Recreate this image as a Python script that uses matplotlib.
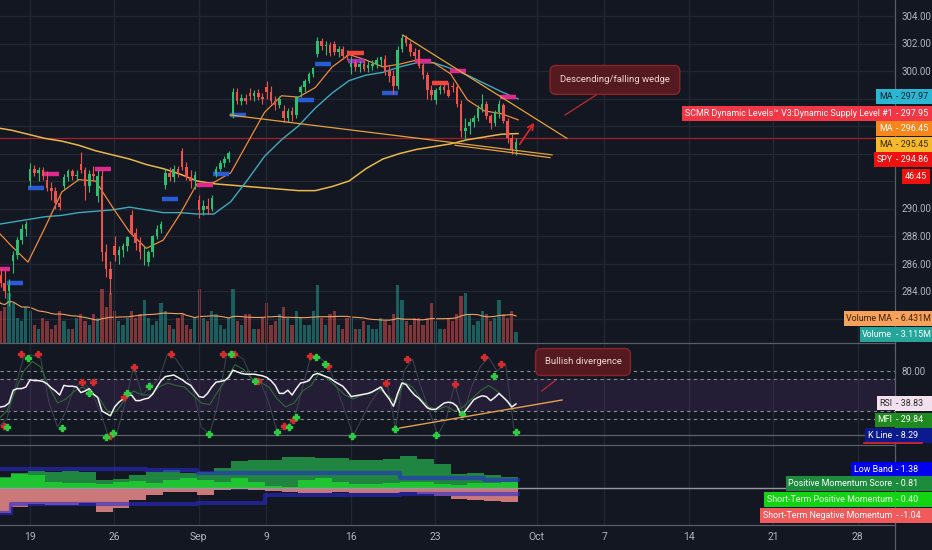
import numpy as np
import pandas as pd
import matplotlib.pyplot as plt
from matplotlib.patches import Rectangle
from matplotlib.lines import Line2D

plt.rcParams['font.family'] = ['Roboto', 'DejaVu Sans']

# SPY, Aug 15 - Sep 27 2019, 4 bars per trading day
days = ["Aug 15", "Aug 16", "Aug 19", "Aug 20", "Aug 21", "Aug 22", "Aug 23", "Aug 26",
        "Aug 27", "Aug 28", "Aug 29", "Aug 30", "Sep 3", "Sep 4", "Sep 5", "Sep 6",
        "Sep 9", "Sep 10", "Sep 11", "Sep 12", "Sep 13", "Sep 16", "Sep 17", "Sep 18",
        "Sep 19", "Sep 20", "Sep 23", "Sep 24", "Sep 25", "Sep 26", "Sep 27"]

opens = [284.9, 285.2, 284.6, 284.0, 286.2, 286.6, 287.7, 288.5, 292.0, 292.9, 292.6, 292.8,
         292.1, 291.5, 291.3, 290.4, 291.6, 292.3, 292.7, 292.4, 293.2, 292.8, 291.6, 292.5,
         290.9, 292.4, 286.8, 285.6, 287.3, 286.6, 287.0, 287.3, 289.5, 288.2, 287.5, 286.8,
         286.1, 286.8, 288.0, 288.5, 291.7, 292.6, 292.3, 292.9, 294.2, 293.0, 292.3, 292.0,
         290.6, 289.9, 290.2, 290.0, 292.5, 292.9, 293.3, 293.6, 296.7, 298.5, 297.8, 298.0,
         298.4, 298.2, 298.4, 298.1, 298.8, 298.5, 297.8, 297.5, 297.1, 296.6, 297.1, 296.8,
         298.5, 298.8, 299.3, 299.8, 301.2, 302.2, 301.8, 301.9, 302.0, 301.4, 301.6, 301.1,
         300.3, 300.6, 300.3, 300.5, 300.2, 300.4, 300.5, 300.8, 300.9, 300.0, 299.6, 298.9,
         301.6, 302.4, 302.0, 301.4, 301.5, 300.4, 299.7, 298.6, 297.9, 298.6, 298.8, 298.6,
         298.9, 298.8, 297.6, 295.6, 296.0, 296.3, 296.6, 297.3, 297.6, 296.7, 296.2, 297.0,
         297.5, 296.4, 295.1, 294.3]
highs = [285.6, 285.7, 285.5, 284.9, 286.9, 287.9, 288.9, 289.1, 293.3, 293.2, 293.0, 293.0,
         292.7, 291.9, 291.6, 290.9, 292.5, 292.9, 292.9, 292.8, 294.1, 293.0, 292.8, 293.1,
         292.8, 292.8, 287.4, 286.2, 288.0, 287.3, 287.5, 288.0, 289.9, 288.6, 287.9, 287.3,
         287.0, 288.1, 288.8, 289.1, 292.9, 293.0, 293.2, 293.1, 294.4, 293.4, 292.8, 292.7,
         291.0, 290.6, 290.8, 291.0, 293.1, 293.5, 293.8, 294.2, 298.8, 298.8, 298.3, 298.3,
         298.8, 298.6, 298.7, 298.4, 299.3, 298.9, 298.2, 298.2, 297.5, 297.3, 297.4, 298.2,
         299.0, 299.4, 299.9, 300.3, 302.5, 302.4, 302.2, 302.1, 302.2, 301.8, 301.8, 301.5,
         301.1, 300.9, 300.7, 300.8, 300.7, 300.8, 301.0, 301.0, 301.2, 300.4, 300.1, 301.8,
         302.7, 302.6, 302.2, 301.7, 301.6, 300.6, 299.9, 299.0, 298.8, 299.0, 299.1, 299.2,
         299.2, 299.0, 297.9, 296.6, 296.6, 296.8, 297.5, 298.3, 297.8, 296.9, 297.2, 297.9,
         297.7, 296.6, 295.4, 295.1]
lows = [283.9, 284.3, 283.5, 282.9, 285.3, 286.3, 287.4, 288.0, 291.6, 292.4, 292.0, 292.1,
        291.3, 290.6, 290.0, 289.9, 291.4, 292.0, 292.1, 292.0, 292.6, 290.6, 291.2, 292.0,
        290.5, 286.2, 285.0, 283.8, 286.2, 286.0, 286.5, 286.9, 288.0, 287.0, 286.3, 285.9,
        285.8, 286.5, 287.8, 288.2, 291.4, 292.0, 291.9, 292.3, 292.8, 292.1, 291.5, 291.4,
        289.3, 289.5, 289.6, 289.8, 292.3, 292.7, 293.0, 293.4, 296.6, 297.6, 297.5, 297.6,
        297.9, 297.8, 297.9, 297.6, 298.0, 297.6, 297.2, 297.3, 296.3, 296.3, 296.4, 296.6,
        298.1, 298.5, 299.1, 299.6, 301.0, 301.5, 301.2, 301.1, 301.2, 301.0, 300.9, 300.8,
        299.8, 300.0, 299.9, 300.0, 299.9, 300.1, 300.2, 300.4, 299.7, 299.2, 298.3, 298.7,
        301.4, 301.8, 301.1, 300.9, 300.2, 299.4, 298.0, 297.9, 297.6, 298.3, 298.4, 298.1,
        298.5, 297.4, 295.2, 295.0, 295.4, 295.9, 296.4, 297.0, 296.5, 295.8, 296.0, 296.6,
        296.2, 294.8, 294.0, 293.9]
closes = [285.2, 284.6, 284.0, 284.45, 286.6, 287.7, 288.5, 288.85, 292.9, 292.6, 292.8, 292.33,
          291.5, 291.3, 290.4, 290.09, 292.3, 292.7, 292.4, 292.45, 292.8, 291.6, 292.5, 292.36,
          292.4, 286.8, 285.6, 284.85, 286.6, 287.0, 287.3, 287.9, 288.2, 287.5, 286.8, 286.87,
          286.8, 288.0, 288.5, 288.89, 292.6, 292.3, 292.9, 292.58, 293.0, 292.3, 292.0, 292.45,
          289.9, 290.2, 290.0, 290.74, 292.9, 293.3, 293.6, 294.04, 298.5, 297.8, 298.0, 297.81,
          298.2, 298.4, 298.1, 297.97, 298.5, 297.8, 297.5, 298.0, 296.6, 297.1, 296.8, 298.13,
          298.8, 299.3, 299.8, 300.25, 302.2, 301.8, 301.9, 301.29, 301.4, 301.6, 301.1, 301.09,
          300.6, 300.3, 300.5, 300.16, 300.4, 300.5, 300.8, 300.99, 300.0, 299.6, 298.9, 301.5,
          302.4, 302.0, 301.4, 301.08, 300.4, 299.7, 298.6, 298.28, 298.6, 298.8, 298.6, 298.21,
          298.8, 297.6, 295.6, 295.87, 296.3, 296.6, 297.3, 297.62, 296.7, 296.2, 297.0, 297.6,
          296.4, 295.1, 294.3, 294.86]
volume = [13, 9, 10, 14, 11, 7, 6, 10, 9, 5, 4, 7, 6, 4, 5, 9, 6, 4, 4, 7, 8, 6, 5, 8,
          7, 15, 10, 14, 9, 6, 5, 7, 9, 7, 8, 12, 7, 5, 6, 11, 9, 5, 4, 7, 8, 5, 4, 7,
          15, 7, 6, 9, 8, 5, 4, 7, 15, 6, 5, 8, 8, 4, 4, 7, 11, 5, 6, 8, 10, 7, 5, 9,
          7, 5, 5, 9, 16, 7, 5, 8, 9, 5, 4, 7, 7, 4, 4, 6, 5, 4, 4, 7, 6, 5, 8, 16,
          12, 6, 5, 7, 7, 5, 7, 11, 6, 4, 4, 7, 6, 8, 13, 14, 8, 5, 6, 9, 8, 6, 7, 12,
          8, 7, 9, 3.1]

# moving averages, value at the start of each trading day (and at the last bar)
ma_fast = [288.6, 287.3, 286.1, 288.6, 291.2, 292.1, 292.0, 290.1, 288.3, 287.1, 287.7, 289.6,
           291.8, 291.9, 292.6, 294.8, 297.0, 298.2, 298.1, 298.8, 300.3, 301.2, 300.8, 300.3,
           300.5, 300.8, 300.6, 299.8, 297.9, 297.1, 296.9, 296.45]
ma_mid = [288.8, 289.0, 289.2, 289.4, 289.5, 289.7, 289.8, 289.9, 290.1, 289.9, 289.7, 289.7,
          289.6, 289.6, 290.5, 292.1, 293.8, 295.0, 296.0, 297.3, 298.4, 299.3, 299.7, 299.9,
          300.3, 300.6, 300.6, 300.2, 299.7, 299.1, 298.5, 297.97]
ma_slow = [295.9, 295.7, 295.4, 295.1, 294.9, 294.6, 294.2, 293.9, 293.6, 293.2, 292.9, 292.5,
           292.0, 291.8, 291.7, 291.6, 291.5, 291.4, 291.3, 291.3, 291.6, 292.0, 292.9, 293.6,
           294.0, 294.3, 294.5, 294.7, 295.0, 295.2, 295.4, 295.45]

# dynamic supply / demand levels: day position, price, kind
lvl_day = [0.0, 0.76, 2.0, 2.89, 5.96, 9.93, 12.0, 12.95, 13.95, 17.98, 18.98,
           20.94, 20.94, 22.95, 24.9, 25.9, 26.97, 29.93]
lvl_price = [285.6, 284.6, 291.5, 292.5, 292.9, 290.7, 291.7, 292.5, 296.8, 297.9, 300.5,
             301.3, 300.7, 298.4, 300.7, 299.1, 300.0, 298.1]
lvl_kind = ["supply", "demand", "demand", "supply", "supply", "demand", "supply", "demand",
            "demand", "demand", "demand", "red", "purple", "demand", "supply", "red",
            "supply", "supply"]

# RSI (per bar), MFI and K line (per half day)
rsi = [34, 35, 36, 40, 56, 58, 58, 60, 69, 68, 68, 67, 64, 59, 55, 50, 62, 61, 61, 60,
       53, 55, 58, 51, 47, 30, 27, 24, 35, 41, 45, 50, 50, 43, 43, 45, 46, 51, 60, 68,
       73, 74, 75, 72, 69, 65, 62, 55, 48, 47, 52, 60, 66, 67, 68, 72, 81, 79, 77, 76,
       76, 76, 75, 74, 72, 68, 62, 52, 52, 56, 50, 58, 65, 66, 68, 75, 77, 75, 73, 71,
       67, 64, 61, 55, 48, 49, 50, 51, 52, 54, 57, 60, 52, 45, 36, 52, 65, 63, 56, 50,
       46, 40, 34, 32, 32, 36, 40, 41, 40, 36, 25, 30, 37, 44, 47, 49, 48, 43, 47, 52,
       47, 42, 35, 38.83]
mfi = [20, 30, 55, 80, 92, 85, 60, 40, 45, 55, 60, 52, 45, 28, 30, 45, 55, 50, 50, 60,
       65, 62, 60, 50, 40, 38, 55, 70, 88, 82, 70, 66, 60, 45, 35, 40, 55, 62, 78, 70,
       60, 50, 45, 50, 52, 58, 50, 40, 66, 60, 45, 35, 32, 36, 30, 35, 45, 55, 62, 55,
       45, 29.84]
k_line = [10, 20, 60, 98, 100, 96, 40, 10, 30, 60, 66, 55, 30, -1, 2, 40, 85, 50, 60, 70,
          101, 95, 80, 60, 10, 1, 40, 100, 101, 95, 70, 67, 40, 4, 10, 20, 60, 99, 97, 88,
          60, 30, -1, 20, 40, 55, 65, 7.5, 80, 95, 60, 30, 0, 20, 64, 26, 60, 85, 97, 80,
          89, 8.29]
sell_day = [1.59, 2.59, 0.58, 5.2, 5.85, 8.27, 7.68, 6.85, 10.46, 13.54, 14.19, 15.6, 18.69,
            19.75, 17.15, 17.68, 23.18, 24.43, 27.27, 28.98, 29.99]
sell_val = [101, 101, 11, 66, 66, 85, 47.5, -1, 101, 101, 101, 67.5, 99, 86, 11, 19, 65, 95,
            64, 97.5, 89]
buy_day = [1.99, 0.76, 5.61, 4.01, 7.86, 6.62, 7.03, 9.16, 12.71, 14.01, 15.43, 19.04, 19.57,
           16.73, 17.44, 17.86, 21.17, 23.72, 26.14, 27.68, 29.57, 30.88]
buy_val = [96, 10, 52.5, 9, 52.5, -2.5, 2.5, 61, 1, 101, 67.5, 97.5, 89, 4, 10, 22.5, -1, 7.5,
           0, 26, 74, 4]

# momentum pane, one value per day
pos_score = [0.82, 1.08, 1.25, 1.13, 1.23, 1.13, 0.58, 0.63, 0.94, 1.18, 1.3, 1.08, 1.13, 1.42,
             1.98, 2.0, 2.0, 2.22, 2.25, 2.2, 2.15, 2.0, 2.0, 2.1, 2.3, 2.1, 1.74, 1.01, 1.06,
             0.94, 0.81]
st_pos = [0.7, 1.0, 0.94, 0.45, 0.33, 0.33, 0.3, 0.45, 0.5, 0.38, 0.55, 0.75, 0.6, 0.45, 0.7,
          0.45, 0.13, 0.07, 0.55, 0.7, 0.45, 0.3, 0.3, 0.38, 0.45, 0.45, 0.3, 0.22, 0.33, 0.38,
          0.40]
st_neg = [-1.83, -1.35, -1.16, -1.23, -1.23, -1.11, -1.71, -1.47, -0.87, -0.51, -0.27, -0.27,
          -0.51, -0.14, -0.1, -0.14, -0.19, -0.27, -0.34, -0.34, -0.27, -0.34, -0.39, -0.34,
          -0.27, -0.43, -0.58, -0.82, -0.87, -0.92, -1.04]
up_band = [1.35] * 9 + [1.28] * 3 + [1.08] * 12 + [0.72] * 5 + [0.6] * 2
low_band = [-1.8] + [-1.16] * 11 + [-1.11] * 4 + [-0.51] * 8 + [-0.42] * 7

tick_days = [2, 7, 12, 16, 21, 26, 32, 36, 41, 46, 51]
tick_labels = ["19", "26", "Sep", "9", "16", "23", "Oct", "7", "14", "21", "28"]

# ---- styling ----
BG = "#131722"
GRID = "#232733"
TXT = "#b2b5be"
UP, DOWN = "#2fbf71", "#f0514a"
LVL_COL = {"supply": "#e0288f", "demand": "#2a5bd7", "red": "#f2453d", "purple": "#9b30c0"}
W, H = 932, 550
PX = 16.9          # pixels per trading day
X0 = -5.8          # pixel position of day 0
FS = 6.4           # label font size

fig = plt.figure(figsize=(W / 100, H / 100), dpi=100, facecolor=BG)


def rect(top, bottom):
    return [0, 1 - bottom / H, 895 / W, (bottom - top) / H]


ax_vol = fig.add_axes(rect(0, 343), facecolor=BG)
ax = fig.add_axes(rect(0, 343), sharex=ax_vol, facecolor="none")
ax_rsi = fig.add_axes(rect(343, 445), sharex=ax_vol, facecolor=BG)
ax_mom = fig.add_axes(rect(445, 525), sharex=ax_vol, facecolor=BG)
ax_vol.set_zorder(0)
ax.set_zorder(1)

xlim = (-X0 / PX, (895 - X0) / PX)
for a in (ax_vol, ax, ax_rsi, ax_mom):
    a.set_xlim(*xlim)
    for s in a.spines.values():
        s.set_visible(False)
    a.tick_params(length=0, labelsize=7, colors=TXT)
    a.tick_params(axis="x", labelbottom=False)
    for d in tick_days:
        a.axvline(d + 0.1, color=GRID, lw=0.9, zorder=0)
ax_vol.set_yticks([])
ax_mom.set_yticks([])
ax_mom.set_xticks([d + 0.1 for d in tick_days])
ax_mom.set_xticklabels(tick_labels)
ax_mom.tick_params(axis="x", labelbottom=True, pad=5, labelsize=7.5)

n = len(closes)
bx = np.arange(n) / 4 + 0.125
o, h, l, c = map(np.array, (opens, highs, lows, closes))
col = np.where(c >= o, UP, DOWN)

# volume
vol = np.array(volume)
vcol = np.where(c >= o, "#26a69a", "#ef5350")
ax_vol.bar(bx, vol, width=0.19, color=vcol, alpha=0.5, zorder=1)
ax_vol.plot(bx, pd.Series(vol).rolling(20, min_periods=1).mean(), color="#f0a060", lw=0.8, zorder=2)
ax_vol.set_ylim(0, 343 / 3.6)

# price pane; labels under the value tags stay blank, as on the chart
ylo, yhi = 304 - 327 / 13.75, 304 + 16 / 13.75
price_ticks = np.arange(282, 306, 2)
hidden = {282, 292, 294, 296, 298}
ax.set_ylim(ylo, yhi)
ax.yaxis.tick_right()
ax.set_yticks(price_ticks)
ax.set_yticklabels(["" if v in hidden else f"{v:.2f}" for v in price_ticks])
ax.tick_params(axis="y", pad=5)
for v in price_ticks:
    ax_vol.axhline((v - ylo) / (yhi - ylo) * 343 / 3.6, color=GRID, lw=0.9, zorder=0)

ax.axhline(295.1, color="#a3202b", lw=0.9, zorder=2)

dx = np.arange(len(ma_fast))
ax.plot(dx, ma_slow, color="#e8b84a", lw=1.1, zorder=3)
ax.plot(dx, ma_mid, color="#3fa9bd", lw=1.0, zorder=3)
ax.plot(dx, ma_fast, color="#f08a3c", lw=0.9, zorder=3)

for d, p, k in zip(lvl_day, lvl_price, lvl_kind):
    ax.hlines(p, d, d + 0.95, color=LVL_COL[k], lw=3.2, zorder=4)

ax.vlines(bx, l, h, color=col, lw=0.8, zorder=5)
ax.bar(bx, np.maximum(np.abs(c - o), 0.06), bottom=np.minimum(o, c), width=0.15,
       color=col, zorder=6)

# wedge drawing
TL = "#e8a23a"
ax.plot([24.19, 33.89], [302.6, 295.1], color=TL, lw=0.9, zorder=7)
ax.plot([13.95, 33.01], [296.8, 293.9], color=TL, lw=0.9, zorder=7)
ax.plot([27.27, 32.89], [294.6, 293.7], color=TL, lw=0.9, zorder=7)
ax.annotate("", xy=(32.05, 296.4), xytext=(31.0, 294.5),
            arrowprops=dict(arrowstyle="->", color="#e0282d", lw=1.2), zorder=8)
ax.plot([35.67, 33.78], [298.3, 296.8], color="#c0282d", lw=0.9, zorder=7)
ax.text(36.73, 299.35, "Descending/falling wedge", color="#f2d6d6", fontsize=6.8,
        ha="center", va="center", zorder=9,
        bbox=dict(boxstyle="round,pad=1.05,rounding_size=0.6", fc="#541a20", ec="#8c2329", lw=1))

# RSI pane
ax_rsi.set_ylim(70 - (445 - 379) / 0.8, 70 + (379 - 343) / 0.8)
ax_rsi.yaxis.tick_right()
ax_rsi.set_yticks([80])
ax_rsi.set_yticklabels(["80.00"])
ax_rsi.tick_params(axis="y", pad=5)
ax_rsi.axhspan(30, 70, color="#7b3fa0", alpha=0.16, lw=0, zorder=0)
for v in (80, 70, 30, 20):
    ax_rsi.axhline(v, color="#8a8d96", lw=0.8, ls=(0, (3, 3)), zorder=1)
ax_rsi.axhline(0, color="#5d606b", lw=0.9, zorder=1)
hx = np.arange(len(mfi)) / 2 + 0.25
ax_rsi.plot(hx, k_line, color="#3a3f4e", lw=0.8, zorder=2)
ax_rsi.plot(hx, mfi, color="#2e6b33", lw=0.8, zorder=2)
ax_rsi.plot(bx, rsi, color="#f2f2f2", lw=1.1, zorder=3)
ax_rsi.plot(sell_day, sell_val, ls="none", marker="P", ms=4, color="#d62b2b", zorder=4)
ax_rsi.plot(buy_day, buy_val, ls="none", marker="P", ms=4, color="#2ecc40", zorder=4)
ax_rsi.plot([24.0, 33.6], [8.75, 43.75], color="#e0a050", lw=1.0, zorder=5)
ax_rsi.plot([33.2, 32.4], [68.0, 55.0], color="#c0282d", lw=0.9, zorder=5)
ax_rsi.text(34.84, 91.25, "Bullish divergence", color="#f2d6d6", fontsize=6.8,
            ha="center", va="center", zorder=9,
            bbox=dict(boxstyle="round,pad=0.95,rounding_size=0.6", fc="#541a20", ec="#8c2329", lw=1))

# momentum pane
ax_mom.set_ylim(-(525 - 488) / 13.8, (488 - 445) / 13.8)
ex = np.arange(len(pos_score) + 1)
step = lambda v: np.append(v, v[-1])
ax_mom.fill_between(ex, 0, step(pos_score), step="post", color="#1f8540", lw=0, zorder=1)
ax_mom.fill_between(ex, 0, step(st_pos), step="post", color="#1fc431", lw=0, zorder=2)
ax_mom.fill_between(ex, step(st_neg), 0, step="post", color="#ec8a8a", alpha=0.85, lw=0, zorder=2)
ax_mom.step(ex, step(up_band), where="post", color="#2a2ad0", alpha=0.6, lw=3, zorder=3)
ax_mom.step(ex, step(low_band), where="post", color="#2a2ad0", alpha=0.6, lw=3, zorder=3)
ax_mom.axhline(0, color="#9598a1", lw=1.0, zorder=4)

# pane separators and price scale border
for yp in (343, 445, 525):
    fig.add_artist(Line2D([0, 895 / W], [1 - yp / H] * 2, color="#5a5e69", lw=0.9, zorder=3))
fig.add_artist(Line2D([895 / W] * 2, [0, 1], color="#5a5e69", lw=0.9, zorder=3))


def tag(yp, name, value, bg, fg):
    y = 1 - yp / H
    fig.add_artist(Rectangle((895 / W, y - 7.5 / H), 37 / W, 15 / H, transform=fig.transFigure,
                             fc=bg, ec="none", zorder=5))
    fig.text(896.5 / W, y, "- " + value, color=fg, fontsize=FS, va="center", ha="left", zorder=6)
    fig.text(892.5 / W, y, name, color=fg, fontsize=FS, va="center", ha="right", zorder=6,
             bbox=dict(boxstyle="square,pad=0.32", fc=bg, ec="none"))


tag(96.5, "MA", "297.97", "#2bb7d4", "#10202c")
tag(113.5, "SCMR Dynamic Levels\u2122 V3:Dynamic Supply Level #1", "297.95", "#f23645", "white")
tag(128.5, "MA", "296.45", "#f7871c", "white")
tag(144.5, "MA", "295.45", "#f6b92b", "#3a2a00")
tag(159.5, "SPY", "294.86", "#f01010", "white")
fig.add_artist(Rectangle((902 / W, 1 - 183.5 / H), 28 / W, 15 / H, transform=fig.transFigure,
                         fc="#f01010", ec="none", zorder=5))
fig.text(916 / W, 1 - 176 / H, "46:45", color="white", fontsize=FS, ha="center", va="center",
         zorder=6)
tag(318.5, "Volume MA", "6.431M", "#f7a25c", "#3a2200")
tag(334.5, "Volume", "3.115M", "#26a69a", "white")
tag(403, "RSI", "38.83", "#f3e0ef", "#2a2a2a")
tag(420, "MFI", "29.84", "#1f8a1f", "white")
tag(435, "K Line", "8.29", "#0b1a8c", "white")
fig.add_artist(Line2D([864 / W, 922 / W], [1 - 443 / H] * 2, color="#e0282d", lw=1.2, zorder=6))
tag(469, "Low Band", "1.38", "#0000ee", "white")
tag(483.5, "Positive Momentum Score", "0.81", "#1c8c3c", "white")
tag(499.5, "Short-Term Positive Momentum", "0.40", "#12d412", "#eaffea")
tag(515.5, "Short-Term Negative Momentum", "-1.04", "#f05a5a", "white")

fig.savefig("out.png", dpi=100, facecolor=BG)
